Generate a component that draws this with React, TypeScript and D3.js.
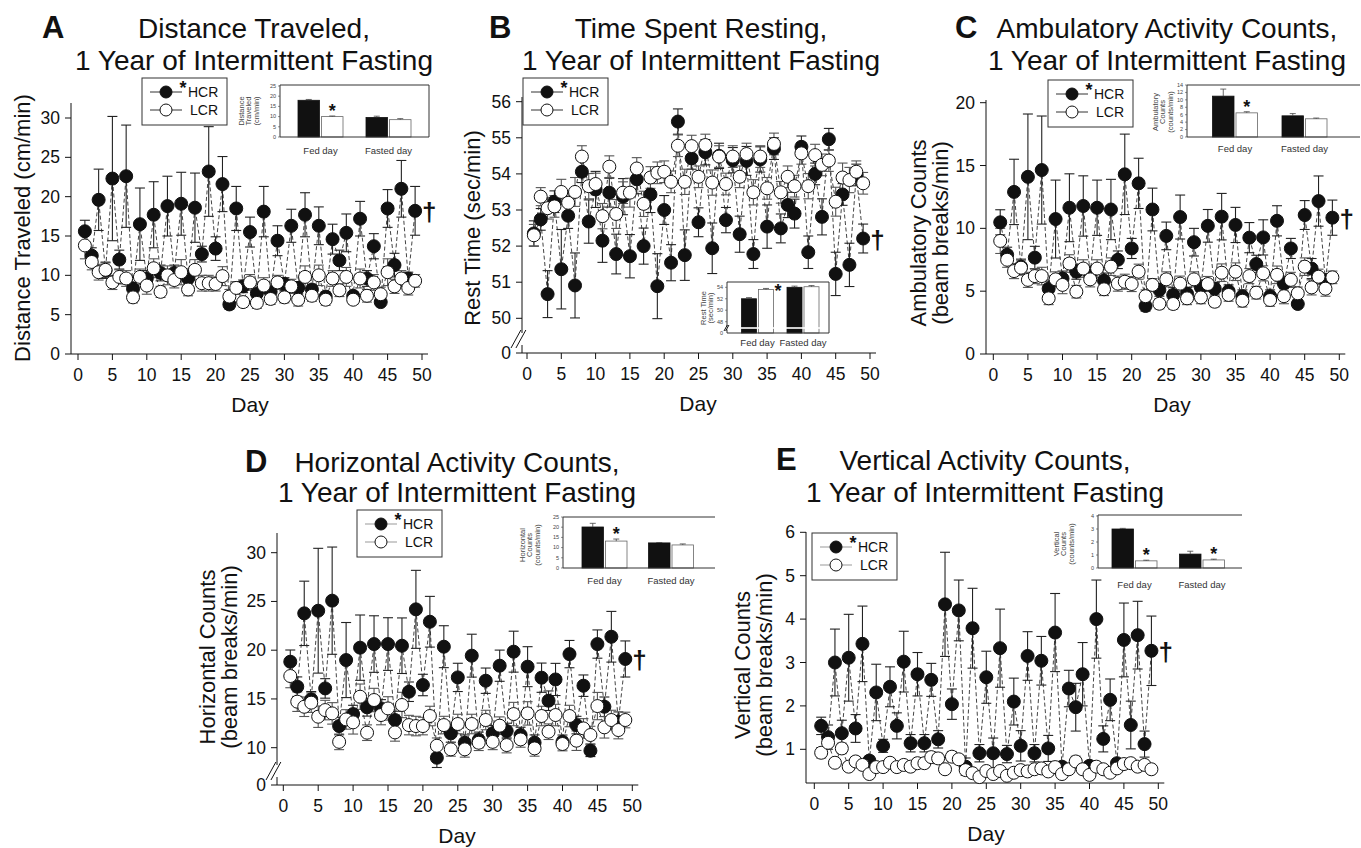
import React from 'react';
import * as d3 from 'd3';

const FONT = '"Liberation Sans", Arial, Helvetica, sans-serif';

// days 1..49 are the x categories
const days = d3.range(1, 50);
const dayTicks = [0, 5, 10, 15, 20, 25, 30, 35, 40, 45, 50];
const seriesNames = ['HCR', 'LCR'];
const insetGroups = ['Fed day', 'Fasted day'];

// A - distance traveled (cm/min)
const aHcr = [15.6, 12.5, 19.6, 10.6, 22.3, 12.0, 22.6, 8.3, 16.5, 9.6, 17.7, 10.3, 18.8, 10.3, 19.1, 9.6, 18.6, 12.7, 23.2, 13.4, 21.6, 6.3, 18.5, 8.6, 15.5, 7.7, 18.1, 7.9, 14.4, 8.9, 16.3, 8.4, 17.7, 8.2, 16.3, 7.3, 14.6, 11.9, 15.4, 7.4, 17.2, 9.6, 13.7, 6.6, 18.5, 11.3, 21.0, 9.6, 18.2];
const aHcrErr = [1.4, 1.0, 3.9, 1.0, 7.9, 1.2, 6.5, 0.8, 4.6, 1.0, 4.2, 1.0, 3.8, 1.0, 4.0, 1.0, 4.4, 1.0, 5.7, 1.5, 3.5, 0.6, 2.8, 0.8, 1.9, 0.6, 3.2, 0.6, 1.9, 0.8, 2.1, 0.8, 2.8, 0.6, 2.4, 0.6, 1.9, 1.3, 2.4, 0.5, 2.2, 1.0, 1.6, 0.3, 2.4, 1.5, 3.6, 0.8, 3.1];
const aLcr = [13.8, 11.7, 10.4, 10.7, 9.1, 9.8, 9.6, 7.2, 9.8, 8.7, 10.9, 7.9, 10.0, 9.4, 10.4, 8.2, 10.7, 9.0, 9.0, 8.9, 9.9, 7.3, 8.4, 6.6, 9.1, 6.5, 8.7, 7.0, 9.1, 7.2, 8.6, 6.9, 9.8, 7.4, 10.0, 6.9, 9.6, 8.1, 9.8, 6.9, 9.6, 7.4, 9.1, 7.6, 10.4, 8.6, 9.6, 8.4, 9.3];
const aLcrErr = [1.7, 1.0, 1.0, 1.0, 0.9, 0.9, 1.0, 0.7, 1.0, 1.1, 1.2, 0.7, 1.2, 1.0, 1.6, 0.8, 1.3, 1.0, 1.0, 0.9, 1.2, 0.9, 0.8, 0.6, 1.0, 0.7, 1.0, 0.7, 0.9, 0.7, 0.9, 0.8, 1.4, 0.7, 1.3, 0.7, 1.0, 0.8, 1.2, 0.6, 1.2, 0.8, 1.0, 0.9, 1.7, 0.9, 1.0, 0.9, 0.8];
const aYTicks = [0, 5, 10, 15, 20, 25, 30];
const aInsetHcr = [18.0, 9.6];
const aInsetHcrErr = [0.4, 0.6];
const aInsetLcr = [10.0, 8.5];
const aInsetLcrErr = [0.3, 0.5];
const aInsetTicks = [0, 5, 10, 15, 20, 25];

// B - rest time (sec/min)
const bHcr = [52.35, 52.74, 50.67, 53.23, 51.36, 52.84, 50.91, 54.06, 52.68, 53.57, 52.15, 53.48, 51.78, 53.37, 51.72, 53.85, 52.0, 53.43, 50.89, 53.0, 51.54, 55.45, 51.75, 54.43, 52.66, 54.6, 51.94, 54.5, 52.72, 54.38, 52.33, 54.36, 51.78, 54.4, 52.54, 54.7, 52.49, 53.14, 52.9, 54.75, 51.83, 54.0, 52.81, 54.96, 51.23, 53.43, 51.48, 53.97, 52.21];
const bHcrErr = [0.35, 0.3, 0.65, 0.3, 1.1, 0.35, 0.9, 0.3, 0.6, 0.5, 0.6, 0.4, 0.55, 0.5, 0.6, 0.4, 0.5, 0.5, 0.9, 0.4, 0.5, 0.35, 0.7, 0.3, 0.4, 0.35, 0.7, 0.35, 0.35, 0.35, 0.5, 0.4, 0.4, 0.35, 0.6, 0.3, 0.4, 0.35, 0.4, 0.3, 0.45, 0.3, 0.5, 0.3, 0.6, 0.3, 0.6, 0.3, 0.4];
const bLcr = [52.3, 53.37, 53.05, 53.1, 53.5, 53.2, 53.5, 54.48, 53.66, 53.72, 52.83, 54.2, 52.89, 53.48, 53.48, 54.15, 53.17, 53.9, 54.03, 54.06, 53.78, 54.78, 53.78, 54.77, 53.92, 54.8, 53.76, 54.48, 53.72, 54.48, 53.92, 54.55, 53.49, 54.48, 53.6, 54.83, 53.49, 53.92, 53.66, 54.57, 53.66, 54.52, 54.25, 54.37, 53.23, 53.9, 53.83, 54.06, 53.74];
const bLcrErr = [0.3, 0.25, 0.3, 0.3, 0.35, 0.3, 0.4, 0.3, 0.35, 0.3, 0.35, 0.3, 0.4, 0.3, 0.4, 0.3, 0.35, 0.3, 0.3, 0.3, 0.3, 0.3, 0.35, 0.3, 0.3, 0.3, 0.35, 0.3, 0.3, 0.3, 0.3, 0.3, 0.35, 0.3, 0.3, 0.3, 0.3, 0.3, 0.3, 0.3, 0.35, 0.3, 0.3, 0.3, 0.4, 0.4, 0.35, 0.3, 0.3];
const bYTicks = [50, 51, 52, 53, 54, 55, 56];
const bInsetHcr = [52.0, 54.0];
const bInsetHcrErr = [0.2, 0.2];
const bInsetLcr = [53.6, 54.1];
const bInsetLcrErr = [0.2, 0.2];
const bInsetTicks = [48, 50, 52, 54];

// C - ambulatory counts (beam breaks/min)
const cHcr = [10.48, 7.9, 12.9, 6.95, 14.1, 7.67, 14.64, 5.2, 10.74, 6.0, 11.64, 6.55, 11.78, 6.4, 11.64, 5.84, 11.5, 7.5, 14.3, 8.4, 13.58, 3.82, 11.5, 5.1, 9.4, 4.7, 10.9, 4.8, 8.9, 5.3, 10.2, 5.2, 10.93, 5.0, 10.27, 4.6, 9.26, 7.16, 9.28, 4.6, 10.6, 5.6, 8.4, 3.98, 11.06, 6.8, 12.17, 5.8, 10.85];
const cHcrErr = [1.0, 0.6, 2.6, 0.6, 5.0, 0.9, 4.3, 0.6, 3.1, 0.6, 2.7, 0.6, 2.4, 0.6, 2.2, 0.6, 2.4, 0.7, 3.2, 0.8, 2.0, 0.4, 1.7, 0.5, 1.1, 0.6, 1.75, 0.5, 1.1, 0.6, 1.3, 0.5, 1.85, 0.5, 1.4, 0.5, 1.2, 0.7, 1.4, 0.5, 1.2, 0.6, 0.8, 0.3, 1.15, 0.8, 2.0, 0.6, 1.4];
const cLcr = [9.0, 7.5, 6.6, 6.87, 5.9, 6.2, 6.2, 4.43, 5.94, 5.5, 7.2, 4.96, 6.8, 5.94, 6.8, 5.15, 6.95, 5.6, 5.75, 5.57, 6.55, 4.6, 5.5, 4.0, 5.94, 3.98, 5.6, 4.43, 5.94, 4.5, 5.57, 4.16, 6.47, 4.7, 6.55, 4.24, 6.2, 4.88, 6.42, 4.3, 6.3, 4.6, 5.9, 4.83, 6.95, 5.3, 6.15, 5.2, 6.1];
const cLcrErr = [1.0, 0.6, 0.6, 0.6, 0.6, 0.6, 0.7, 0.5, 0.6, 0.7, 0.7, 0.5, 0.7, 0.6, 0.7, 0.5, 0.7, 0.6, 0.6, 0.6, 0.6, 0.5, 0.5, 0.4, 0.6, 0.4, 0.6, 0.5, 0.6, 0.5, 0.6, 0.4, 0.7, 0.5, 0.7, 0.5, 0.6, 0.5, 0.6, 0.5, 0.7, 0.6, 0.6, 0.5, 0.7, 0.6, 0.6, 0.6, 0.5];
const cYTicks = [0, 5, 10, 15, 20];
const cInsetHcr = [11.0, 5.7];
const cInsetHcrErr = [1.9, 0.6];
const cInsetLcr = [6.5, 4.9];
const cInsetLcrErr = [0.3, 0.2];
const cInsetTicks = [0, 2, 4, 6, 8, 10, 12, 14];

// D - horizontal counts (beam breaks/min)
const dHcr = [18.82, 16.26, 23.78, 14.96, 24.05, 16.08, 25.08, 12.22, 18.99, 13.45, 20.26, 14.14, 20.63, 14.03, 20.63, 12.84, 20.46, 15.74, 24.19, 16.43, 22.92, 8.97, 20.36, 11.47, 17.21, 10.51, 19.44, 10.8, 16.87, 11.47, 18.41, 11.71, 19.85, 11.3, 18.31, 10.51, 17.18, 14.82, 17.0, 10.6, 19.6, 12.32, 16.36, 9.69, 20.63, 14.2, 21.38, 12.67, 19.1];
const dHcrErr = [1.2, 1.0, 3.3, 0.8, 6.4, 1.0, 5.5, 0.9, 3.85, 0.9, 3.35, 0.9, 2.9, 0.9, 2.7, 0.9, 2.85, 1.0, 4.0, 1.1, 2.6, 1.0, 2.15, 0.9, 1.45, 0.8, 2.2, 0.8, 1.3, 0.8, 1.6, 0.8, 2.1, 0.8, 2.05, 0.8, 1.5, 1.0, 1.65, 0.7, 1.4, 0.9, 1.1, 0.6, 1.45, 1.0, 2.6, 1.0, 1.85];
const dLcr = [17.35, 14.72, 14.2, 14.62, 13.18, 13.86, 13.52, 10.6, 12.9, 12.6, 15.23, 11.54, 14.89, 13.35, 14.03, 11.57, 14.38, 12.32, 12.22, 12.22, 13.25, 10.2, 12.32, 9.83, 12.43, 9.83, 12.43, 10.51, 12.84, 10.6, 12.26, 10.27, 13.45, 10.85, 13.52, 9.93, 13.25, 11.64, 13.35, 10.38, 13.25, 10.72, 11.98, 11.3, 14.27, 12.09, 12.84, 11.81, 12.84];
const dLcrErr = [1.2, 1.0, 1.0, 1.0, 1.1, 1.0, 1.1, 0.8, 1.0, 1.2, 1.3, 0.8, 1.2, 1.0, 1.2, 0.9, 1.3, 1.0, 1.0, 0.9, 1.0, 0.8, 0.9, 0.7, 1.0, 0.8, 1.0, 0.8, 1.0, 0.8, 0.9, 0.8, 1.2, 0.8, 1.2, 0.8, 1.0, 0.8, 1.1, 0.7, 1.1, 1.0, 1.0, 0.9, 1.4, 1.1, 1.0, 0.9, 0.8];
const dYTicks = [10, 15, 20, 25, 30];
const dInsetHcr = [20.1, 12.3];
const dInsetHcrErr = [1.8, 0.2];
const dInsetLcr = [13.2, 11.3];
const dInsetLcrErr = [1.0, 0.5];
const dInsetTicks = [0, 5, 10, 15, 20, 25];

// E - vertical counts (beam breaks/min)
const eHcr = [1.54, 1.28, 3.0, 1.37, 3.11, 1.48, 3.43, 0.74, 2.31, 1.08, 2.44, 1.54, 3.02, 1.14, 2.73, 1.14, 2.6, 1.23, 4.34, 2.04, 4.2, 0.6, 3.79, 0.91, 2.66, 0.91, 3.33, 0.89, 2.1, 1.08, 3.15, 0.91, 3.04, 1.02, 3.69, 0.6, 2.4, 1.97, 2.73, 0.62, 4.0, 1.24, 2.14, 0.68, 3.52, 1.56, 3.63, 1.12, 3.27];
const eHcrErr = [0.2, 0.28, 0.77, 0.3, 1.0, 0.32, 0.87, 0.1, 0.65, 0.15, 0.46, 0.3, 0.7, 0.2, 0.5, 0.2, 0.38, 0.2, 1.2, 0.35, 0.7, 0.2, 0.92, 0.2, 0.6, 0.35, 0.9, 0.2, 0.54, 0.35, 0.56, 0.2, 0.56, 0.3, 0.9, 0.1, 0.42, 0.55, 0.73, 0.1, 0.9, 0.3, 0.48, 0.1, 0.85, 0.55, 0.78, 0.3, 0.8];
const eLcr = [0.92, 1.15, 0.69, 1.02, 0.6, 0.72, 0.64, 0.43, 0.59, 0.59, 0.69, 0.59, 0.64, 0.6, 0.68, 0.68, 0.82, 0.79, 0.54, 0.83, 0.77, 0.52, 0.45, 0.36, 0.5, 0.43, 0.5, 0.39, 0.46, 0.52, 0.49, 0.54, 0.56, 0.49, 0.59, 0.43, 0.54, 0.72, 0.54, 0.41, 0.6, 0.54, 0.46, 0.56, 0.66, 0.68, 0.6, 0.64, 0.54];
const eLcrErr = [0.12, 0.15, 0.1, 0.12, 0.08, 0.1, 0.08, 0.06, 0.08, 0.08, 0.1, 0.08, 0.08, 0.08, 0.1, 0.1, 0.12, 0.12, 0.08, 0.12, 0.1, 0.08, 0.06, 0.05, 0.08, 0.06, 0.08, 0.06, 0.08, 0.08, 0.08, 0.08, 0.08, 0.08, 0.08, 0.06, 0.08, 0.12, 0.08, 0.06, 0.08, 0.08, 0.06, 0.08, 0.1, 0.1, 0.08, 0.08, 0.06];
const eYTicks = [1, 2, 3, 4, 5, 6];
const eInsetHcr = [3.0, 1.07];
const eInsetHcrErr = [0.05, 0.22];
const eInsetLcr = [0.55, 0.62];
const eInsetLcrErr = [0.05, 0.06];
const eInsetTicks = [0, 1, 2, 3, 4];

// layout of the five panels (pixels)
const panels = [
  {
    letter: 'A', letterX: 42, title: ['Distance Traveled,', '1 Year of Intermittent Fasting'], titleX: 254, titleY: [38, 70],
    x0: 78, x50: 422, axisX: 71, axisY: 354, axisTop: 103, yDom: [0, 30], yRange: [354, 118], yTicks: aYTicks,
    ylab: ['Distance Traveled (cm/min)'], ylabX: 22, ylabY: 228, dayX: 250, legend: [142, 78], legendLine: '#333',
    hcr: aHcr, hcrErr: aHcrErr, lcr: aLcr, lcrErr: aLcrErr,
    inset: { left: 280, right: 429, top: 85, bottom: 137, closed: true, yDom: [0, 25], yRange: [137, 86], ticks: aInsetTicks,
      centers: [320.5, 388.5], bw: 21.5, ylab: ['Distance', 'Traveled', '(cm/min)'], ylabX: 241, ylabY: 111, catY: 154,
      hcr: aInsetHcr, hcrErr: aInsetHcrErr, lcr: aInsetLcr, lcrErr: aInsetLcrErr, stars: [true, false] },
  },
  {
    letter: 'B', letterX: 489, title: ['Time Spent Resting,', '1 Year of Intermittent Fasting'], titleX: 701, titleY: [38, 70],
    x0: 527, x50: 870, axisX: 522, axisY: 353, axisTop: 97, yDom: [50, 56], yRange: [318.3, 101.7], yTicks: bYTicks,
    zeroBreak: 339, ylab: ['Rest Time (sec/min)'], ylabX: 472, ylabY: 228, dayX: 698, legend: [523, 78], legendLine: '#333',
    hcr: bHcr, hcrErr: bHcrErr, lcr: bLcr, lcrErr: bLcrErr,
    inset: { left: 727, right: 829, top: 282, bottom: 333, closed: true, yDom: [48, 54], yRange: [321.7, 287.3], ticks: bInsetTicks,
      zeroBreak: 328, centers: [757.5, 803], bw: 15, ylab: ['Rest Time', '(sec/min)'], ylabX: 703, ylabY: 308, catY: 346,
      hcr: bInsetHcr, hcrErr: bInsetHcrErr, lcr: bInsetLcr, lcrErr: bInsetLcrErr, stars: [true, false], starDx: 12, starDy: 9 },
  },
  {
    letter: 'C', letterX: 955, title: ['Ambulatory Activity Counts,', '1 Year of Intermittent Fasting'], titleX: 1167, titleY: [38, 70],
    x0: 993.3, x50: 1339.3, axisX: 986, axisY: 354, axisTop: 100, yDom: [0, 20], yRange: [354, 102.7], yTicks: cYTicks,
    ylab: ['Ambulatory Counts', '(beam breaks/min)'], ylabX: 918, ylabY: 233, dayX: 1172, legend: [1048, 80], legendLine: '#333',
    hcr: cHcr, hcrErr: cHcrErr, lcr: cLcr, lcrErr: cLcrErr,
    inset: { left: 1187, right: 1360, top: 85, bottom: 137, closed: false, yDom: [0, 14], yRange: [137, 85], ticks: cInsetTicks,
      centers: [1235, 1304.5], bw: 21.5, ylab: ['Ambulatory', 'Counts', '(counts/min)'], ylabX: 1155, ylabY: 112, catY: 152,
      hcr: cInsetHcr, hcrErr: cInsetHcrErr, lcr: cInsetLcr, lcrErr: cInsetLcrErr, stars: [true, false] },
  },
  {
    letter: 'D', letterX: 245, title: ['Horizontal Activity Counts,', '1 Year of Intermittent Fasting'], titleX: 457, titleY: [472, 502],
    x0: 283.3, x50: 632.3, axisX: 277, axisY: 785, axisTop: 533, yDom: [10, 30], yRange: [747.7, 552.7], yTicks: dYTicks,
    zeroBreak: 771, ylab: ['Horizontal Counts', '(beam breaks/min)'], ylabX: 207, ylabY: 657, dayX: 457, legend: [357, 510], legendLine: '#999',
    hcr: dHcr, hcrErr: dHcrErr, lcr: dLcr, lcrErr: dLcrErr,
    inset: { left: 563, right: 715, top: 517, bottom: 568, closed: false, yDom: [0, 25], yRange: [568, 517], ticks: dInsetTicks,
      centers: [604.5, 671], bw: 21.5, ylab: ['Horizontal', 'Counts', '(counts/min)'], ylabX: 522, ylabY: 545, catY: 584,
      hcr: dInsetHcr, hcrErr: dInsetHcrErr, lcr: dInsetLcr, lcrErr: dInsetLcrErr, stars: [true, false] },
  },
  {
    letter: 'E', letterX: 776, title: ['Vertical Activity Counts,', '1 Year of Intermittent Fasting'], titleX: 985, titleY: [470, 502],
    x0: 814.3, x50: 1158.3, axisX: 806, axisY: 783, axisTop: 532, yDom: [1, 6], yRange: [749.3, 532.3], yTicks: eYTicks,
    ylab: ['Vertical Counts', '(beam breaks/min)'], ylabX: 742, ylabY: 665, dayX: 986, legend: [812, 533], legendLine: '#999',
    hcr: eHcr, hcrErr: eHcrErr, lcr: eLcr, lcrErr: eLcrErr,
    inset: { left: 1098, right: 1242, top: 515, bottom: 568, closed: false, yDom: [0, 4], yRange: [568, 516], ticks: eInsetTicks,
      centers: [1134.5, 1202], bw: 21.5, ylab: ['Vertical', 'Counts', '(counts/min)'], ylabX: 1056, ylabY: 544, catY: 588,
      hcr: eInsetHcr, hcrErr: eInsetHcrErr, lcr: eInsetLcr, lcrErr: eInsetLcrErr, stars: [true, true] },
  },
];

const INK = '#111';

function BreakMarks({ x, y, size }: any) {
  return (
    <g stroke={INK} strokeWidth={1}>
      <rect x={x - size} y={y - size * 0.5} width={size * 2} height={size} fill="white" stroke="none" />
      <line x1={x - size} y1={y + size} x2={x + size * 0.1} y2={y - size} />
      <line x1={x - size * 0.45} y1={y + size} x2={x + size * 0.65} y2={y - size} />
    </g>
  );
}

function Legend({ x, y, lineColor }: any) {
  return (
    <g fontFamily={FONT}>
      <rect x={x} y={y} width={85} height={47} fill="white" stroke="#333" strokeWidth={1} />
      {seriesNames.map((s, i) => {
        const cy = y + 14 + i * 18;
        return (
          <g key={s}>
            <line x1={x + 8} x2={x + 40} y1={cy} y2={cy} stroke={lineColor} strokeWidth={1} />
            <circle cx={x + 24} cy={cy} r={6} fill={i === 0 ? INK : 'white'} stroke={INK} strokeWidth={1} />
            {i === 0 && <text x={x + 41} y={cy + 2} fontSize={18} fontWeight="bold" fill={INK} textAnchor="middle">*</text>}
            <text x={x + (i === 0 ? 46 : 48)} y={cy + (i === 0 ? 5 : 4.5)} fontSize={14} fill={INK}>{s}</text>
          </g>
        );
      })}
    </g>
  );
}

function Inset({ s }: any) {
  const y = d3.scaleLinear().domain(s.yDom).range(s.yRange);
  const xc = d3.scalePoint<string>().domain(insetGroups).range(s.centers);
  const bottom = s.bottom;
  const bars = insetGroups.flatMap((g, i) => [
    { g, i, key: 'h' + i, x: (xc(g) as number) - s.bw - 1, v: s.hcr[i], e: s.hcrErr[i], fill: INK },
    { g, i, key: 'l' + i, x: (xc(g) as number) + 1, v: s.lcr[i], e: s.lcrErr[i], fill: 'white' },
  ]);
  return (
    <g fontFamily={FONT}>
      <rect x={s.left} y={s.top} width={s.right - s.left} height={bottom - s.top} fill="white" stroke="none" />
      {bars.map((b) => (
        <g key={b.key}>
          <rect x={b.x} y={y(b.v)} width={s.bw} height={bottom - y(b.v)} fill={b.fill} stroke={b.fill === 'white' ? '#666' : INK} strokeWidth={0.8} />
          <line x1={b.x + s.bw / 2} x2={b.x + s.bw / 2} y1={y(b.v)} y2={y(b.v + b.e)} stroke="#444" strokeWidth={0.8} />
          <line x1={b.x + s.bw / 2 - 3} x2={b.x + s.bw / 2 + 3} y1={y(b.v + b.e)} y2={y(b.v + b.e)} stroke="#444" strokeWidth={0.8} />
        </g>
      ))}
      {s.zeroBreak && <rect x={s.left + 1} y={s.zeroBreak - 0.8} width={s.right - s.left - 2} height={1.6} fill="white" />}
      {bars.filter((b) => b.fill === 'white' && s.stars[b.i]).map((b) => (
        <text key={'s' + b.key} x={b.x + s.bw / 2 + (s.starDx || 0)} y={y(b.v + b.e) + (s.starDy || 1)} fontSize={18} fontWeight="bold" textAnchor="middle" fill={INK}>*</text>
      ))}
      <line x1={s.left} x2={s.right} y1={s.top} y2={s.top} stroke="#333" strokeWidth={1} />
      <line x1={s.left} x2={s.right} y1={bottom} y2={bottom} stroke="#333" strokeWidth={1} />
      <line x1={s.left} x2={s.left} y1={s.top} y2={bottom} stroke="#333" strokeWidth={1} />
      {s.closed && <line x1={s.right} x2={s.right} y1={s.top} y2={bottom} stroke="#333" strokeWidth={1} />}
      {s.ticks.map((t: number) => (
        <g key={t}>
          <line x1={s.left - 2} x2={s.left} y1={y(t)} y2={y(t)} stroke="#444" strokeWidth={0.6} />
          <text x={s.left - 4} y={y(t) + 1.8} fontSize={5.5} textAnchor="end" fill="#444">{t}</text>
        </g>
      ))}
      {s.zeroBreak && (
        <g>
          <text x={s.left - 4} y={bottom + 1.8} fontSize={5.5} textAnchor="end" fill="#444">0</text>
          <BreakMarks x={s.left} y={s.zeroBreak} size={3} />
        </g>
      )}
      {s.ylab.map((l: string, i: number) => (
        <text key={l} transform={`translate(${s.ylabX + i * 7.5 + 2.6},${s.ylabY}) rotate(-90)`} fontSize={7.5} textAnchor="middle" fill="#444">{l}</text>
      ))}
      {insetGroups.map((g) => (
        <text key={g} x={xc(g)} y={s.catY} fontSize={9.5} textAnchor="middle" fill="#333">{g}</text>
      ))}
    </g>
  );
}

function Panel({ p }: any) {
  const x = d3.scaleLinear().domain([0, 50]).range([p.x0, p.x50]);
  const y = d3.scaleLinear().domain(p.yDom).range(p.yRange);
  const series = [
    { name: 'HCR', pts: days.map((d, i) => ({ d, v: p.hcr[i], e: p.hcrErr[i] })), fill: INK },
    { name: 'LCR', pts: days.map((d, i) => ({ d, v: p.lcr[i], e: p.lcrErr[i] })), fill: 'white' },
  ];
  const line = d3.line<any>().x((o) => x(o.d)).y((o) => y(o.v));
  const xEnd = x(50) + 6;
  const last = series[0].pts[series[0].pts.length - 1];
  return (
    <g fontFamily={FONT} fill={INK}>
      <text x={p.letterX} y={p.titleY[0]} fontSize={31} fontWeight="bold">{p.letter}</text>
      {p.title.map((t: string, i: number) => (
        <text key={t} x={p.titleX} y={p.titleY[i]} fontSize={28} textAnchor="middle">{t}</text>
      ))}

      {/* axes */}
      <line x1={p.axisX} x2={xEnd} y1={p.axisY} y2={p.axisY} stroke={INK} strokeWidth={1} />
      {p.zeroBreak ? (
        <g>
          <line x1={p.axisX} x2={p.axisX} y1={p.axisTop} y2={p.zeroBreak - 6} stroke={INK} strokeWidth={1} />
          <line x1={p.axisX} x2={p.axisX} y1={p.zeroBreak + 6} y2={p.axisY} stroke={INK} strokeWidth={1} />
          <line x1={p.axisX - 6} x2={p.axisX} y1={p.axisY} y2={p.axisY} stroke={INK} strokeWidth={1} />
          <text x={p.axisX - 11} y={p.axisY + 6} fontSize={17.5} textAnchor="end">0</text>
          <BreakMarks x={p.axisX - 2} y={p.zeroBreak} size={9} />
        </g>
      ) : (
        <line x1={p.axisX} x2={p.axisX} y1={p.axisTop} y2={p.axisY} stroke={INK} strokeWidth={1} />
      )}
      {p.yTicks.map((t: number) => (
        <g key={t}>
          <line x1={p.axisX - 6} x2={p.axisX} y1={y(t)} y2={y(t)} stroke={INK} strokeWidth={1} />
          <text x={p.axisX - 11} y={y(t) + 6} fontSize={17.5} textAnchor="end">{t}</text>
        </g>
      ))}
      {dayTicks.map((t) => (
        <g key={t}>
          <line x1={x(t)} x2={x(t)} y1={p.axisY} y2={p.axisY + 6} stroke={INK} strokeWidth={1} />
          <text x={x(t)} y={p.axisY + 27} fontSize={17.5} textAnchor="middle">{t}</text>
        </g>
      ))}
      {p.ylab.map((l: string, i: number) => (
        <text key={l} transform={`translate(${p.ylabX + i * 22 + 7.7},${p.ylabY}) rotate(-90)`} fontSize={22} textAnchor="middle">{l}</text>
      ))}
      <text x={p.dayX} y={p.axisY + 58} fontSize={21} textAnchor="middle">Day</text>

      {/* inset bar chart */}
      <Inset s={p.inset} />

      {/* dashed connectors */}
      {series.map((s) => (
        <path key={'l' + s.name} d={line(s.pts) as string} fill="none" stroke="#444" strokeWidth={1} strokeDasharray="4 2.5" />
      ))}
      {/* error bars */}
      {series.map((s) => (
        <g key={'e' + s.name} stroke={s.name === 'HCR' ? '#222' : '#555'} strokeWidth={1.1}>
          {s.pts.map((o) => (
            <g key={o.d}>
              <line x1={x(o.d)} x2={x(o.d)} y1={y(o.v - o.e)} y2={y(o.v + o.e)} />
              <line x1={x(o.d) - 5} x2={x(o.d) + 5} y1={y(o.v + o.e)} y2={y(o.v + o.e)} />
              <line x1={x(o.d) - 5} x2={x(o.d) + 5} y1={y(o.v - o.e)} y2={y(o.v - o.e)} />
            </g>
          ))}
        </g>
      ))}
      {/* markers */}
      {series.map((s) => (
        <g key={'m' + s.name}>
          {s.pts.map((o) => (
            <circle key={o.d} cx={x(o.d)} cy={y(o.v)} r={6.5} fill={s.fill} stroke={INK} strokeWidth={1} />
          ))}
        </g>
      ))}
      <text x={x(last.d) + 7} y={y(last.v) + 10} fontSize={26} fontWeight="bold">†</text>

      <Legend x={p.legend[0]} y={p.legend[1]} lineColor={p.legendLine} />
    </g>
  );
}

export default function App() {
  return (
    <svg width={1361} height={848} viewBox="0 0 1361 848" style={{ position: 'absolute', left: 0, top: 0, display: 'block', background: 'white' }}>
      <rect width={1361} height={848} fill="white" />
      {panels.map((p) => (
        <Panel key={p.letter} p={p} />
      ))}
    </svg>
  );
}
